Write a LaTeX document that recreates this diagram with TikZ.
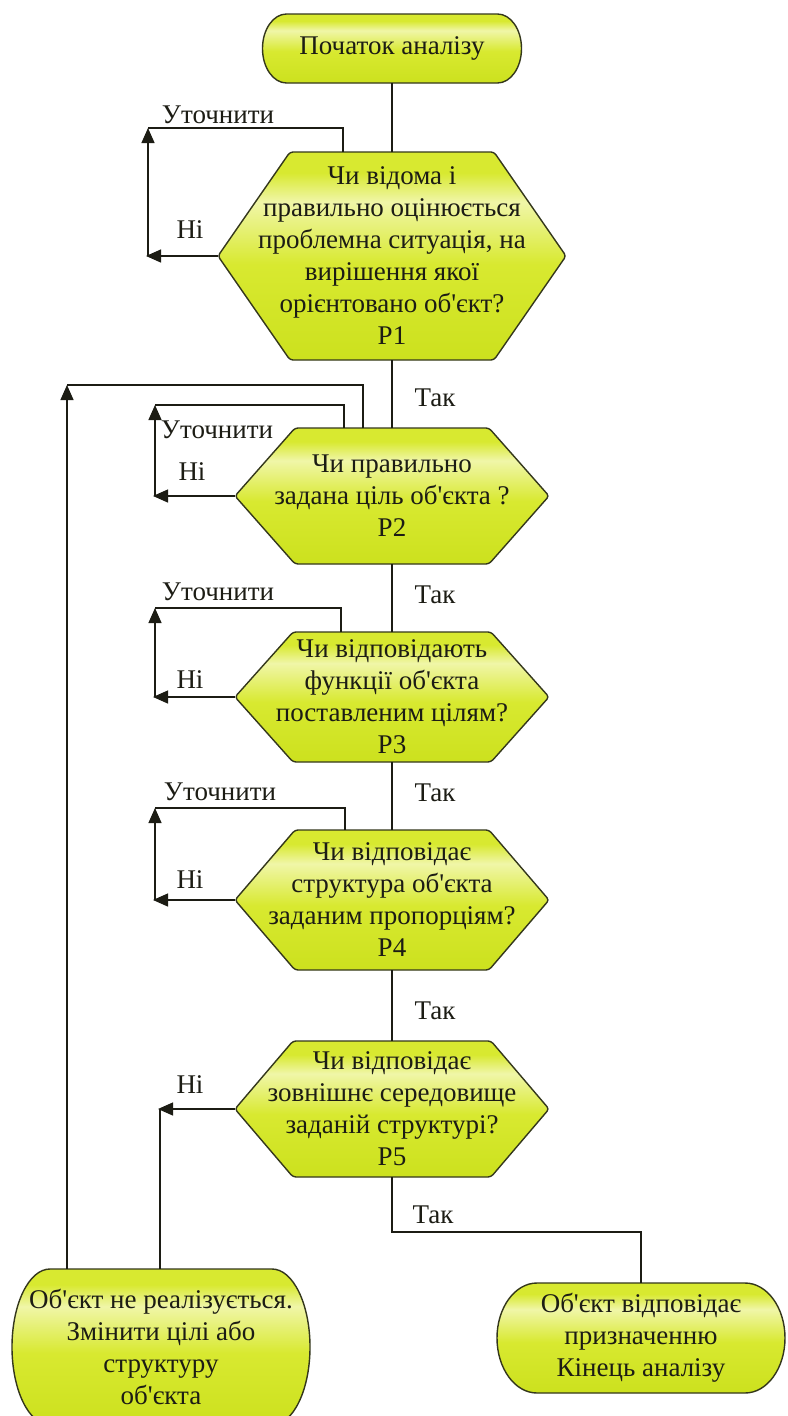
\documentclass[tikz,border=0pt]{standalone}
\usepackage{fontspec}
\setmainfont{Liberation Serif}
\usetikzlibrary{arrows.meta,calc}

\definecolor{fillbase}{RGB}{216,233,48}
\definecolor{filldark}{RGB}{204,225,30}
\definecolor{fillhi}{RGB}{240,246,168}
\definecolor{edgecol}{RGB}{52,55,28}
\definecolor{ink}{RGB}{28,28,20}

% glossy vertical fill: the path maps onto 25bp (bottom) .. 75bp (top)
\pgfdeclareverticalshading{gloss}{100bp}{color(0bp)=(filldark); color(25bp)=(filldark);
  color(48bp)=(fillbase); color(63bp)=(fillhi); color(70bp)=(fillbase); color(100bp)=(fillbase)}

\newcommand\apos{\textquotesingle}

\tikzset{
  txt/.style={font=\fontsize{27}{32}\selectfont, text=ink, align=center, inner sep=0pt},
  shapeline/.style={draw=edgecol, line width=1.4pt, shading=gloss},
  conn/.style={draw=ink, line width=1.3pt},
  arr/.style={conn, -{Triangle[length=15pt,width=13pt]}}
}

% hexagon decision box: name, cx, cy, half width, half height, tip inset, text
\newcommand\hexnode[7]{%
  \shadedraw[shapeline, rounded corners=3pt]
    (#2-#4,#3) -- (#2-#4+#6,#3-#5) -- (#2+#4-#6,#3-#5) -- (#2+#4,#3)
    -- (#2+#4-#6,#3+#5) -- (#2-#4+#6,#3+#5) -- cycle;
  \node[txt, minimum width=2*#4, minimum height=2*#5] (#1) at (#2,#3) {#7};
}

% terminator with elliptic ends: name, cx, cy, half width, half height, end radius, text
\newcommand\termnode[7]{%
  \pgfmathsetmacro\shpL{#2-#4+#6}\pgfmathsetmacro\shpR{#2+#4-#6}%
  \pgfmathsetmacro\shpT{#3-#5}\pgfmathsetmacro\shpB{#3+#5}%
  \pgfmathsetmacro\shpXl{#2-#4}\pgfmathsetmacro\shpXr{#2+#4}%
  \pgfmathsetmacro\shpKx{0.5523*#6}\pgfmathsetmacro\shpKy{0.5523*#5}%
  \shadedraw[shapeline] (\shpL,\shpT) -- (\shpR,\shpT)
    .. controls (\shpR+\shpKx,\shpT) and (\shpXr,#3-\shpKy) .. (\shpXr,#3)
    .. controls (\shpXr,#3+\shpKy) and (\shpR+\shpKx,\shpB) .. (\shpR,\shpB)
    -- (\shpL,\shpB)
    .. controls (\shpL-\shpKx,\shpB) and (\shpXl,#3+\shpKy) .. (\shpXl,#3)
    .. controls (\shpXl,#3-\shpKy) and (\shpL-\shpKx,\shpT) .. (\shpL,\shpT) -- cycle;
  \node[txt, minimum width=2*#4, minimum height=2*#5] (#1) at (#2,#3) {#7};
}

\begin{document}
\begin{tikzpicture}[x=1pt,y=-1pt]
\useasboundingbox[fill=white] (0,0) rectangle (787,1416);

% blocks
\termnode{start}{392}{48.5}{129.5}{34.5}{24}{Початок аналізу}
\hexnode{P1}{392}{256}{174}{104}{72}{Чи відома і\\правильно оцінюється\\проблемна ситуація, на\\вирішення якої\\орієнтовано об\apos єкт?\\P1}
\hexnode{P2}{392}{496}{157}{68}{60}{Чи правильно\\задана ціль об\apos єкта ?\\P2}
\hexnode{P3}{392}{697}{157}{65}{58}{Чи відповідають\\функції об\apos єкта\\поставленим цілям?\\P3}
\hexnode{P4}{392}{900}{157}{70}{60}{Чи відповідає\\структура об\apos єкта\\заданим пропорціям?\\P4}
\hexnode{P5}{392}{1109}{157}{68}{58}{Чи відповідає\\зовнішнє середовище\\заданій структурі?\\P5}
\termnode{endL}{161}{1347}{149}{78}{38}{Об\apos єкт не реалізується.\\Змінити цілі або\\структуру\\об\apos єкта}
\termnode{endR}{641}{1338}{144}{55}{40}{Об\apos єкт відповідає\\призначенню\\Кінець аналізу}

% main flow
\draw[conn] (start.south) -- (P1.north);
\draw[conn] (P1.south) -- (P2.north);
\draw[conn] (P2.south) -- (P3.north);
\draw[conn] (P3.south) -- (P4.north);
\draw[conn] (P4.south) -- (P5.north);
\coordinate (yesTurn) at (392,1232);
\draw[conn] (P5.south) -- (yesTurn) -| (endR.north);

% P1 loop
\coordinate (n1) at (146,256);
\coordinate (u1) at (148,128);
\draw[arr] (P1.west) -- (n1);
\draw[conn] (n1 -| u1) -- ++(0,-2);
\draw[arr] (n1 -| u1) -- (u1);
\draw[conn] (u1) -| ($(P1.north)+(-49,0)$);

% P2 loop
\coordinate (n2) at (153,496);
\coordinate (u2) at (155,405);
\draw[arr] (P2.west) -- (n2);
\draw[arr] (n2 -| u2) -- (u2);
\draw[conn] (u2) -| ($(P2.north)+(-48,0)$);

% P3 loop
\coordinate (n3) at (153,697);
\coordinate (u3) at (155,608);
\draw[arr] (P3.west) -- (n3);
\draw[arr] (n3 -| u3) -- (u3);
\draw[conn] (u3) -| ($(P3.north)+(-51,0)$);

% P4 loop
\coordinate (n4) at (153,900);
\coordinate (u4) at (155,808);
\draw[arr] (P4.west) -- (n4);
\draw[arr] (n4 -| u4) -- (u4);
\draw[conn] (u4) -| ($(P4.north)+(-47,0)$);

% P5 "no" branch
\coordinate (n5) at (158,1109);
\coordinate (d5) at (160,1109);
\draw[arr] (P5.west) -- (n5);
\draw[conn] (d5) -- (d5 |- endL.north);

% return from the failure block to P2
\coordinate (back) at (67,385);
\draw[arr] (endL.north -| back) -- (back);
\draw[conn] (back) -| ($(P2.north)+(-29,0)$);

% labels
\node[txt] (r1) at (218,115) {Уточнити};
\node[txt] (r2) at (217,430) {Уточнити};
\node[txt] (r3) at (218,592) {Уточнити};
\node[txt] (r4) at (220,792) {Уточнити};
\node[txt] (no1) at (190,230) {Ні};
\node[txt] (no2) at (192,472) {Ні};
\node[txt] (no3) at (190,680) {Ні};
\node[txt] (no4) at (190,880) {Ні};
\node[txt] (no5) at (190,1085) {Ні};
\node[txt] (y1) at (435,398) {Так};
\node[txt] (y2) at (435,595) {Так};
\node[txt] (y3) at (435,793) {Так};
\node[txt] (y4) at (435,1011) {Так};
\node[txt] (y5) at (433,1215) {Так};
\end{tikzpicture}
\end{document}
